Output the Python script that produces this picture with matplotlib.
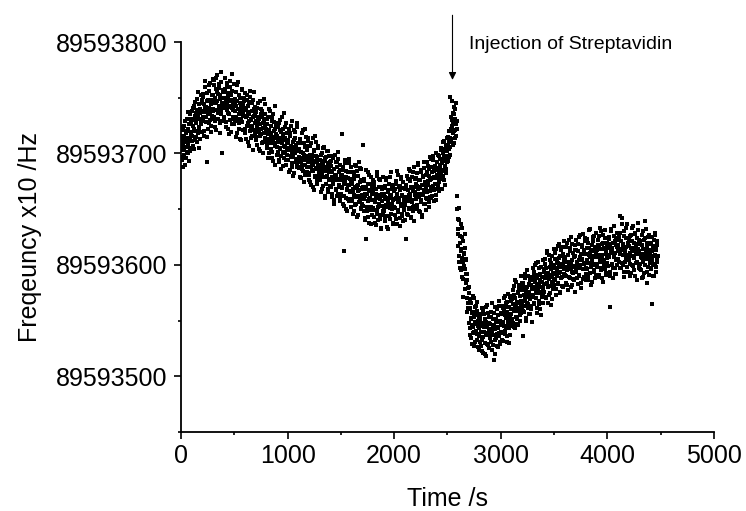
import numpy as np
import matplotlib
matplotlib.use("Agg")
import matplotlib.pyplot as plt
from matplotlib import ticker

plt.rcParams['font.family'] = ['Liberation Sans', 'DejaVu Sans']

# frequency readings (x10 Hz), stored as offsets from BASE
# run A is sampled at 0, 5, 10 ... s ; run B at 2.5, 7.5, 12.5 ... s
BASE = 89593000
time_step = 5
freq_offset_a = [
    # 0 - 95 s
    703, 716, 694, 721, 709, 699, 725, 712, 690, 718, 706, 731, 714, 700, 722, 711, 735, 705, 719, 727,
    716, 738, 725, 707, 731, 743, 720, 712, 736, 729, 749, 718, 733, 724, 705, 740, 731, 752, 726, 737,
    745, 729, 753, 738, 716, 741, 760, 733, 692, 747, 736, 722, 756, 741, 730, 763, 739, 725, 748, 734,
    752, 738, 766, 729, 745, 758, 721, 747, 770, 736, 753, 741, 762, 727, 749, 773, 735, 700, 744, 757,
    731, 755, 744, 768, 728, 747, 739, 760, 722, 751, 742, 735, 765, 748, 719, 741, 756, 733, 746, 762,
    # 500 s
    726, 749, 738, 715, 743, 761, 731, 740, 722, 752, 736, 745, 712, 739, 757, 728, 744, 734, 750, 721,
    741, 718, 733, 752, 725, 710, 737, 746, 729, 720, 756, 731, 714, 738, 725, 748, 703, 734, 727, 742,
    715, 737, 724, 708, 729, 745, 719, 731, 702, 726, 740, 717, 733, 710, 723, 749, 728, 714, 735, 721,
    722, 705, 731, 713, 696, 719, 740, 709, 725, 716, 701, 733, 712, 693, 720, 728, 707, 743, 714, 724,
    699, 716, 710, 727, 692, 705, 721, 714, 686, 709, 733, 701, 717, 696, 712, 724, 706, 690, 718, 703,
    # 1000 s
    710, 694, 722, 703, 685, 716, 698, 707, 729, 691, 704, 680, 712, 700, 719, 695, 708, 688, 724, 702,
    688, 704, 697, 713, 679, 692, 709, 686, 700, 721, 694, 674, 706, 690, 715, 698, 683, 703, 692, 711,
    696, 681, 707, 688, 672, 699, 690, 714, 684, 667, 702, 693, 679, 710, 686, 697, 675, 705, 689, 682,
    677, 694, 686, 665, 700, 681, 690, 671, 706, 684, 660, 693, 679, 697, 688, 668, 702, 683, 676, 692,
    684, 670, 693, 661, 679, 698, 673, 686, 655, 681, 692, 667, 688, 676, 701, 664, 683, 672, 690, 659,
    # 1500 s
    676, 662, 717, 669, 685, 653, 612, 674, 691, 660, 679, 668, 648, 683, 672, 695, 657, 677, 665, 688,
    659, 675, 668, 646, 681, 663, 690, 654, 670, 661, 684, 643, 672, 666, 656, 687, 662, 676, 650, 669,
    668, 653, 708, 659, 675, 642, 664, 623, 670, 648, 683, 657, 666, 638, 673, 660, 652, 679, 645, 664,
    651, 667, 643, 672, 658, 636, 664, 680, 649, 661, 640, 670, 655, 676, 645, 662, 633, 668, 657, 648,
    664, 648, 671, 639, 659, 676, 652, 644, 667, 632, 660, 654, 679, 641, 663, 650, 670, 637, 658, 666,
    # 2000 s
    652, 668, 645, 673, 660, 637, 664, 681, 649, 658, 642, 671, 655, 677, 646, 662, 639, 669, 657, 650,
    668, 654, 623, 672, 659, 645, 677, 663, 651, 684, 660, 642, 670, 656, 679, 648, 666, 688, 653, 663,
    673, 659, 682, 650, 668, 690, 661, 676, 647, 670, 656, 685, 664, 643, 679, 667, 692, 655, 672, 660,
    668, 683, 659, 689, 675, 652, 680, 697, 666, 677, 660, 688, 671, 694, 657, 679, 668, 685, 663, 700,
    678, 692, 670, 687, 698, 674, 690, 681, 705, 668, 693, 684, 700, 676, 711, 689, 695, 682, 708, 692,
    # 2500 s (injection near 2590 s)
    702, 715, 697, 710, 751, 706, 722, 713, 730, 747, 718, 727, 709, 735, 721, 740, 716, 729, 662, 641,
    632, 651, 608, 620, 597, 637, 614, 589, 625, 603, 571, 611, 596, 628, 584, 605, 558, 592, 579, 566,
    575, 548, 561, 537, 566, 552, 529, 558, 544, 570, 540, 555, 531, 563, 547, 538, 559, 526, 550, 543,
    536, 552, 527, 545, 561, 533, 548, 521, 540, 556, 530, 544, 518, 549, 537, 564, 528, 542, 553, 534,
    547, 531, 558, 539, 524, 551, 542, 515, 545, 562, 533, 549, 538, 527, 555, 543, 568, 536, 550, 529,
    # 3000 s
    540, 557, 546, 533, 561, 549, 570, 538, 555, 544, 566, 531, 558, 550, 574, 543, 562, 553, 537, 568,
    556, 572, 548, 565, 581, 559, 543, 570, 562, 585, 551, 566, 576, 546, 561, 579, 555, 568, 590, 560,
    564, 580, 536, 573, 558, 588, 569, 552, 577, 566, 595, 561, 574, 583, 556, 571, 589, 563, 578, 549,
    586, 571, 594, 565, 580, 600, 575, 557, 588, 579, 603, 568, 583, 560, 592, 576, 598, 571, 585, 566,
    579, 596, 583, 605, 571, 590, 612, 584, 566, 593, 587, 609, 575, 598, 581, 602, 569, 591, 585, 614,
    # 3500 s
    600, 586, 611, 592, 573, 603, 595, 617, 583, 598, 606, 576, 594, 613, 589, 601, 580, 608, 596, 621,
    591, 607, 584, 603, 620, 595, 577, 609, 600, 588, 615, 597, 625, 582, 604, 593, 611, 586, 599, 618,
    608, 594, 622, 599, 583, 612, 604, 590, 627, 597, 610, 579, 605, 618, 596, 587, 613, 601, 624, 592,
    597, 615, 604, 586, 620, 609, 631, 593, 611, 600, 582, 618, 606, 625, 595, 612, 588, 607, 629, 601,
    613, 598, 622, 607, 589, 616, 633, 603, 595, 619, 609, 585, 627, 604, 614, 596, 631, 610, 591, 620,
    # 4000 s
    602, 617, 609, 625, 594, 562, 612, 630, 600, 615, 588, 620, 607, 635, 597, 611, 624, 592, 616, 604,
    618, 603, 626, 644, 610, 597, 621, 613, 642, 600, 616, 630, 589, 612, 624, 605, 637, 609, 594, 619,
    604, 622, 611, 590, 627, 615, 600, 633, 608, 620, 595, 613, 629, 602, 617, 586, 624, 610, 638, 598,
    612, 596, 621, 607, 588, 618, 603, 630, 610, 593, 624, 639, 605, 614, 584, 620, 609, 598, 627, 602,
    611, 597, 619, 604, 565, 615, 590, 622, 608, 600, 627, 594, 613, 605, 618,
]
freq_offset_b = [
    # 2.5 - 97.5 s
    712, 697, 724, 706, 688, 715, 703, 729, 696, 710, 720, 701, 737, 708, 693, 726, 714, 702, 731, 716,
    730, 711, 741, 722, 704, 734, 746, 715, 727, 739, 710, 733, 755, 721, 744, 713, 736, 727, 748, 719,
    733, 751, 720, 744, 737, 765, 728, 742, 754, 715, 739, 748, 727, 761, 735, 744, 719, 752, 731, 767,
    740, 761, 733, 750, 724, 746, 768, 739, 755, 731, 759, 743, 718, 752, 737, 764, 745, 729, 756, 741,
    750, 733, 758, 741, 724, 763, 745, 736, 754, 717, 747, 760, 730, 743, 752, 726, 771, 739, 748, 731,
    # 502.5 s
    744, 729, 755, 733, 747, 718, 740, 764, 727, 735, 750, 713, 742, 731, 758, 737, 721, 747, 739, 754,
    722, 739, 713, 734, 748, 727, 743, 707, 735, 751, 724, 730, 716, 745, 733, 721, 740, 755, 718, 736,
    729, 712, 741, 720, 733, 704, 726, 747, 716, 735, 722, 709, 738, 727, 700, 731, 718, 744, 724, 711,
    708, 726, 717, 733, 700, 721, 712, 738, 704, 718, 729, 696, 715, 735, 709, 722, 690, 727, 717, 706,
    715, 701, 724, 694, 711, 730, 704, 719, 698, 713, 689, 722, 707, 736, 700, 714, 694, 727, 709, 699,
    # 1002.5 s
    694, 712, 705, 683, 718, 697, 725, 701, 688, 710, 697, 721, 682, 706, 714, 692, 703, 727, 690, 709,
    703, 687, 712, 693, 678, 701, 718, 690, 696, 684, 709, 699, 722, 681, 694, 707, 688, 714, 697, 676,
    682, 699, 674, 693, 709, 685, 696, 670, 690, 703, 680, 716, 687, 698, 673, 692, 707, 679, 694, 685,
    690, 676, 699, 682, 668, 693, 705, 679, 687, 662, 696, 684, 673, 702, 680, 691, 665, 688, 698, 677,
    671, 689, 664, 683, 696, 675, 658, 686, 679, 699, 668, 681, 692, 662, 677, 695, 670, 685, 657, 680,
    # 1502.5 s
    664, 681, 670, 655, 688, 673, 662, 694, 677, 650, 684, 667, 678, 659, 691, 672, 666, 683, 652, 675,
    673, 657, 683, 665, 648, 677, 669, 689, 655, 671, 662, 645, 680, 667, 692, 658, 674, 651, 686, 663,
    655, 670, 648, 677, 662, 640, 668, 685, 652, 664, 673, 643, 659, 681, 649, 667, 637, 671, 658, 676,
    665, 649, 674, 656, 638, 668, 660, 683, 646, 663, 652, 677, 641, 659, 670, 632, 664, 653, 679, 645,
    650, 669, 642, 661, 678, 654, 634, 665, 657, 673, 644, 662, 651, 683, 646, 668, 655, 638, 672, 659,
    # 2002.5 s
    666, 651, 675, 641, 662, 684, 656, 647, 670, 660, 635, 667, 653, 679, 644, 663, 674, 649, 661, 640,
    655, 671, 661, 680, 646, 667, 657, 686, 650, 664, 675, 643, 669, 658, 683, 652, 670, 639, 665, 677,
    661, 678, 654, 671, 691, 664, 648, 676, 669, 683, 658, 672, 645, 680, 663, 687, 655, 674, 666, 649,
    681, 665, 692, 672, 656, 686, 676, 661, 695, 670, 683, 662, 678, 698, 667, 684, 673, 689, 658, 681,
    687, 673, 699, 683, 666, 695, 688, 703, 677, 691, 685, 710, 680, 697, 672, 704, 693, 686, 714, 698,
    # 2502.5 s
    708, 693, 720, 704, 714, 699, 733, 711, 725, 708, 736, 720, 742, 714, 731, 726, 745, 722, 650, 628,
    617, 640, 603, 626, 612, 595, 633, 606, 621, 587, 610, 599, 578, 615, 592, 604, 570, 586, 561, 580,
    560, 543, 569, 551, 534, 557, 546, 572, 539, 553, 527, 562, 549, 541, 567, 533, 556, 545, 524, 552,
    549, 531, 556, 540, 523, 547, 535, 559, 544, 520, 551, 538, 562, 529, 546, 539, 557, 525, 548, 541,
    535, 553, 541, 566, 528, 546, 537, 557, 520, 542, 551, 534, 560, 544, 526, 549, 539, 563, 531, 547,
    # 3002.5 s
    556, 539, 563, 548, 532, 559, 545, 572, 541, 552, 562, 536, 567, 547, 556, 530, 571, 549, 560, 545,
    569, 551, 577, 560, 544, 573, 563, 586, 553, 567, 547, 575, 559, 582, 566, 550, 572, 564, 557, 584,
    577, 559, 584, 568, 592, 563, 575, 550, 580, 571, 565, 590, 556, 576, 569, 586, 560, 582, 573, 597,
    573, 590, 566, 585, 578, 602, 570, 582, 561, 591, 577, 597, 565, 586, 575, 555, 589, 580, 604, 572,
    594, 576, 601, 588, 570, 597, 583, 611, 580, 592, 573, 604, 589, 564, 596, 585, 608, 578, 593, 582,
    # 3502.5 s
    587, 605, 597, 578, 614, 590, 602, 584, 619, 593, 575, 608, 598, 588, 616, 581, 600, 610, 592, 604,
    605, 590, 616, 598, 582, 609, 596, 622, 589, 603, 612, 580, 601, 594, 619, 587, 607, 598, 576, 613,
    595, 613, 603, 588, 619, 598, 625, 591, 607, 600, 584, 616, 604, 596, 628, 589, 610, 602, 621, 586,
    610, 596, 623, 602, 589, 615, 607, 632, 598, 613, 603, 585, 621, 608, 594, 626, 600, 616, 591, 611,
    600, 618, 609, 591, 626, 605, 614, 597, 630, 608, 588, 620, 603, 615, 599, 624, 612, 593, 617, 606,
    # 4002.5 s
    615, 599, 623, 607, 590, 619, 611, 632, 601, 614, 597, 626, 609, 592, 621, 604, 618, 629, 600, 612,
    605, 622, 612, 597, 629, 614, 602, 637, 609, 619, 594, 626, 611, 603, 633, 616, 598, 624, 607, 620,
    617, 601, 626, 608, 593, 621, 612, 635, 599, 615, 606, 628, 590, 619, 610, 603, 631, 614, 597, 622,
    601, 619, 610, 595, 627, 606, 614, 589, 622, 609, 600, 632, 612, 594, 617, 605, 625, 591, 613, 607,
    604, 620, 596, 612, 625, 601, 617, 590, 609, 629, 598, 614, 603, 621, 608,
]

injection_time = 2547
annotation_text = "Injection of Streptavidin"

time_a = np.arange(len(freq_offset_a)) * time_step
time_b = np.arange(len(freq_offset_b)) * time_step + time_step / 2
time_s = np.concatenate([time_a, time_b])
freq = BASE + np.concatenate([np.array(freq_offset_a, dtype=float),
                              np.array(freq_offset_b, dtype=float)])

fig = plt.figure(figsize=(7.46, 5.11), dpi=100)
ax = fig.add_axes([0.2426, 0.1546, 0.7145, 0.7632])

ax.plot(time_s, freq, linestyle='none', marker='s', markersize=2.6,
        markeredgewidth=0, color='black')

ax.set_xlim(0, 5000)
ax.set_ylim(BASE + 450, BASE + 800)
ax.xaxis.set_major_locator(ticker.MultipleLocator(1000))
ax.xaxis.set_minor_locator(ticker.MultipleLocator(500))
ax.yaxis.set_major_locator(ticker.MultipleLocator(100))
ax.yaxis.set_minor_locator(ticker.MultipleLocator(50))
ax.yaxis.set_major_formatter(ticker.FormatStrFormatter('%d'))

for side in ['top', 'right']:
    ax.spines[side].set_visible(False)
for side in ['left', 'bottom']:
    ax.spines[side].set_linewidth(1.3)

ax.tick_params(which='major', length=5, width=1.2, labelsize=18)
ax.tick_params(which='minor', length=2.5, width=1.2)
ax.tick_params(axis='x', pad=4)
ax.tick_params(axis='y', pad=5)

ax.set_xlabel('Time /s', fontsize=18, labelpad=13)
ax.set_ylabel('Freqeuncy x10 /Hz', fontsize=18, labelpad=10)

# arrow marking the injection
ax.annotate('', xy=(injection_time, BASE + 766), xytext=(injection_time, BASE + 824),
            arrowprops=dict(arrowstyle='-|>', lw=0.8, color='black', mutation_scale=11,
                            shrinkA=0, shrinkB=0),
            annotation_clip=False)
ax.text(2702, BASE + 794, annotation_text, fontsize=14, va='baseline', ha='left')

fig.savefig('out.png', dpi=100)
